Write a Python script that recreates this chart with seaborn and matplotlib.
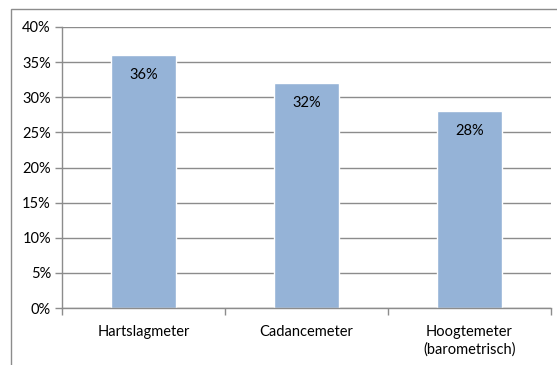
import matplotlib
matplotlib.use("Agg")
import matplotlib.pyplot as plt
import matplotlib.patches as mpatches
from matplotlib.ticker import FixedLocator, PercentFormatter
import seaborn as sns
import pandas as pd

categories = ["Hartslagmeter", "Cadancemeter", "Hoogtemeter\n(barometrisch)"]
shares = [36, 32, 28]
y_ticks = [0, 5, 10, 15, 20, 25, 30, 35, 40]

sns.set_theme(style="white")
plt.rcParams["font.family"] = ["Lato", "DejaVu Sans"]

df = pd.DataFrame({"category": categories, "share": shares})

fig = plt.figure(figsize=(5.57, 3.65), dpi=100)
ax = fig.add_axes([62 / 557, 1 - 308 / 365, (551 - 62) / 557, (308 - 27) / 365])

# chart frame
fig.patches.append(mpatches.Rectangle((11 / 557, -0.5), 2, 0.5 + (1 - 9 / 365),
                                      transform=fig.transFigure, fill=False,
                                      edgecolor="#8c8c8c", linewidth=1.0))

sns.barplot(data=df, x="category", y="share", color="#95B3D7", width=0.4,
            saturation=1, ax=ax, zorder=2)

ax.set_xlim(-0.5, 2.5)
ax.set_ylim(0, 40)
ax.set_yticks(y_ticks)
ax.yaxis.set_major_formatter(PercentFormatter(decimals=0))
ax.grid(axis="y", color="#8c8c8c", linewidth=1.0, zorder=0)
ax.set_axisbelow(True)
ax.set_xlabel("")
ax.set_ylabel("")

for side in ["top", "right"]:
    ax.spines[side].set_visible(False)
for side in ["left", "bottom"]:
    ax.spines[side].set_color("#8c8c8c")
    ax.spines[side].set_linewidth(1.0)

ax.tick_params(axis="y", which="major", length=5, width=1, color="#8c8c8c",
               labelsize=10.5, pad=3, labelcolor="#000000", left=True)
ax.tick_params(axis="x", which="major", length=0, labelsize=10.5, pad=12,
               labelcolor="#000000")
for lbl in ax.get_xticklabels():
    lbl.set_linespacing(1.35)
ax.xaxis.set_minor_locator(FixedLocator([-0.5, 0.5, 1.5, 2.5]))
ax.tick_params(axis="x", which="minor", length=5, width=1, color="#8c8c8c",
               bottom=True)

for i, v in enumerate(shares):
    ax.annotate(f"{v}%", xy=(i, v), xytext=(0, -14), textcoords="offset points",
                ha="center", va="center", fontsize=10.5, color="#000000")

fig.savefig("out.png", dpi=100)
